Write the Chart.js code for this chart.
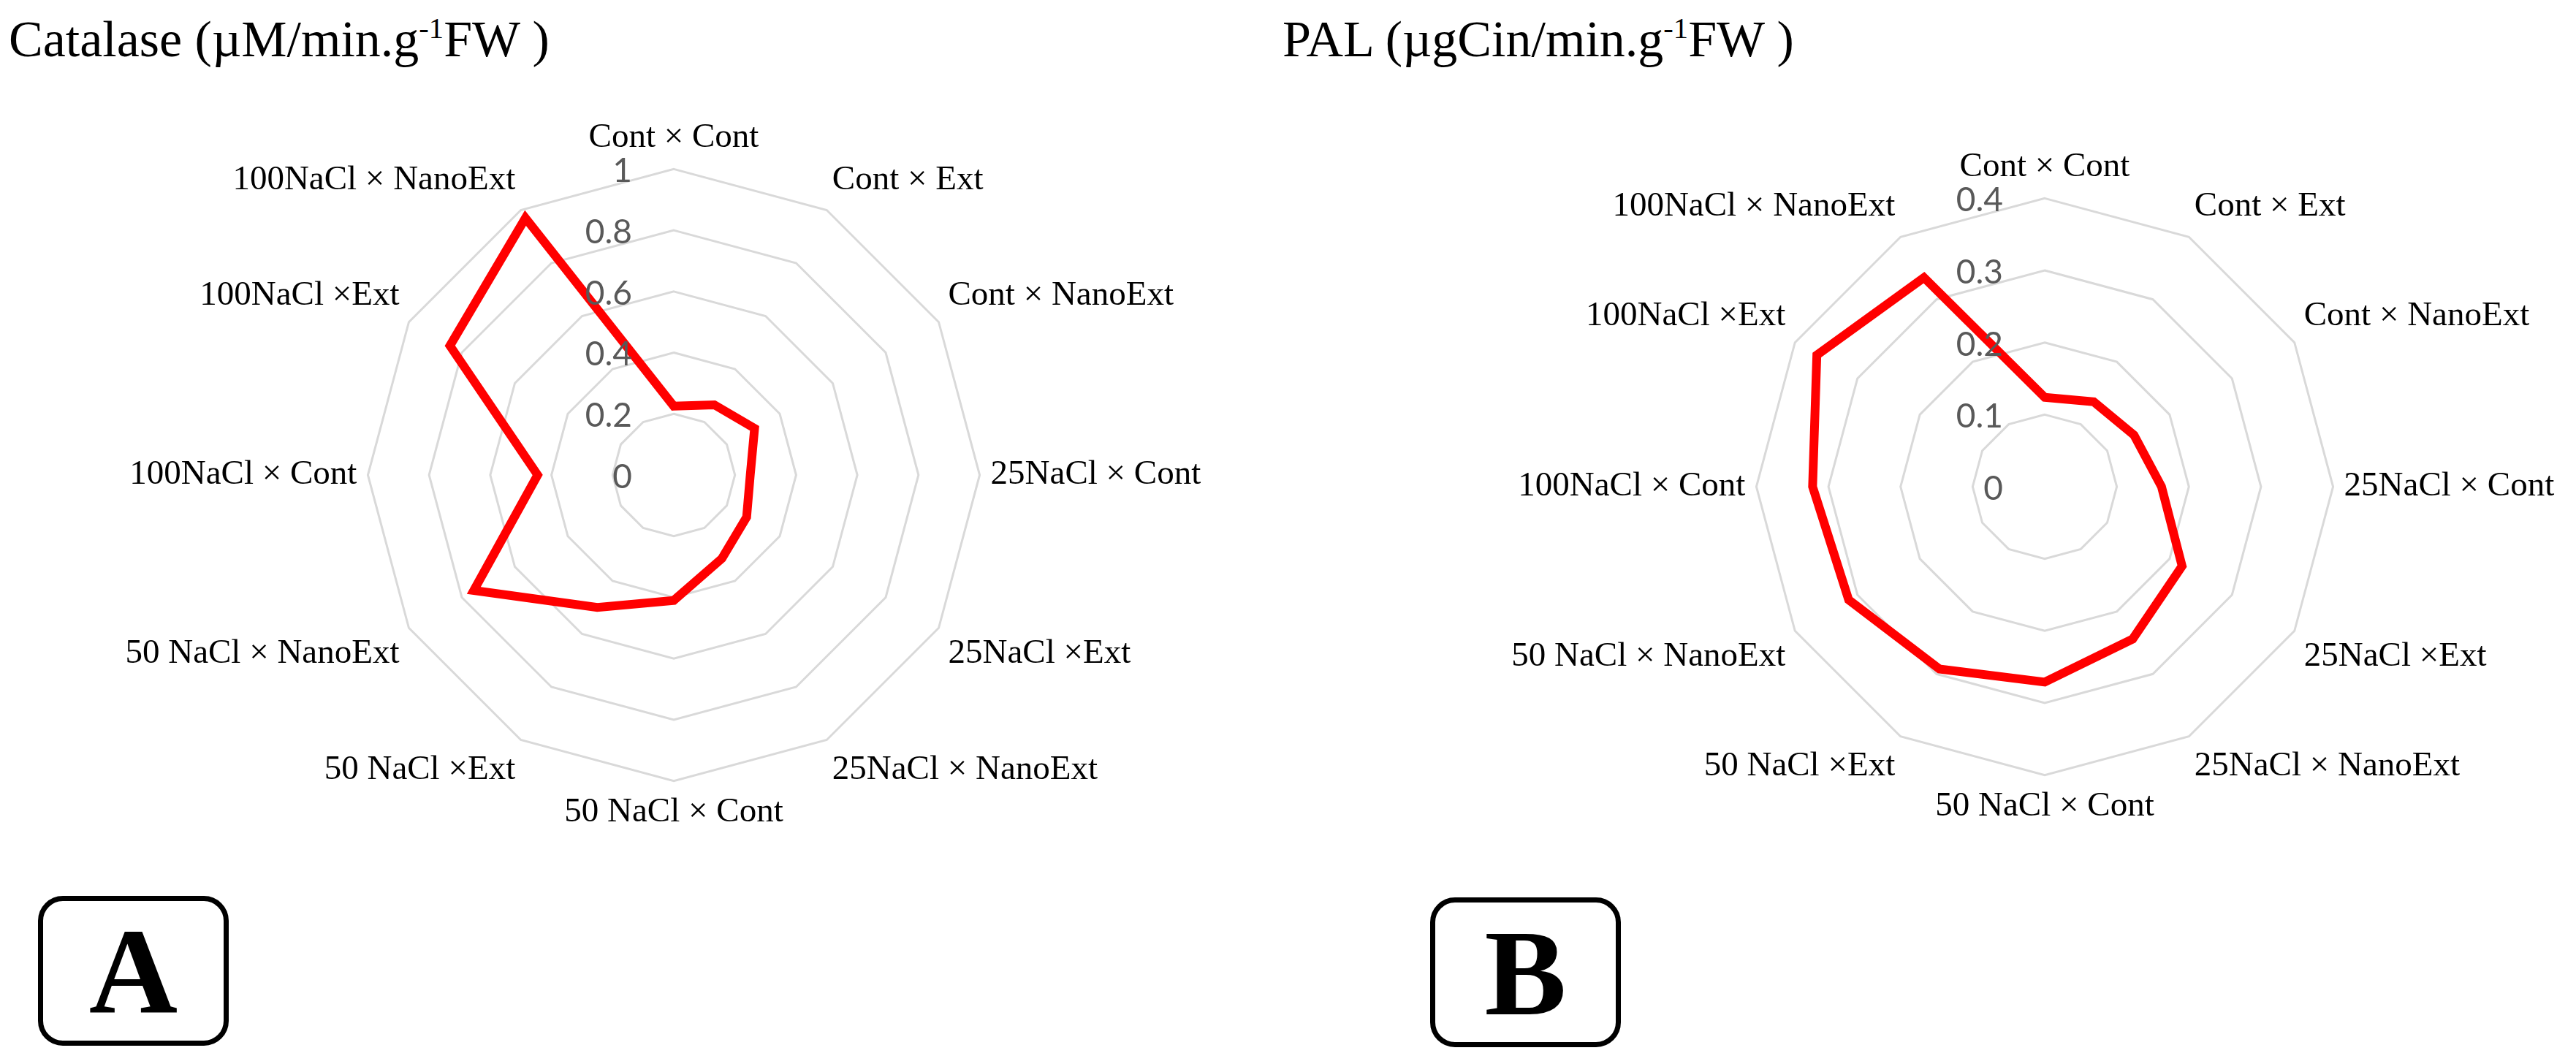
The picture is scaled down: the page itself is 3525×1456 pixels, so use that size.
<!DOCTYPE html>
<html>
<head>
<meta charset="utf-8">
<title>Catalase e PAL</title>
<script src="https://cdn.jsdelivr.net/npm/chart.js@4.4.1/dist/chart.umd.min.js"></script>
<style>
    html, body { margin: 0; padding: 0; background: #fff; }
    body {
        width: 3525px; height: 1456px; overflow: hidden; position: relative;
        font-family: 'Liberation Serif', 'Times New Roman', serif;
    }
    .titulo { position: absolute; font-size: 70px; line-height: 1; color: #000; white-space: nowrap; }
    .titulo sup { font-size: 0.58em; line-height: 0; vertical-align: 0.62em; }
    canvas { position: absolute; }
    .caixa {
        position: absolute; box-sizing: border-box;
        border: 7px solid #000; border-radius: 34px;
        display: flex; align-items: center; justify-content: center;
        font-weight: bold; font-size: 168px; line-height: 1; color: #000;
    }
</style>
</head>
<body>

<div class="titulo" style="left:12px; top:19px;">Catalase (µM/min.g<sup>-1</sup>FW )</div>
<div class="titulo" style="left:1755px; top:19px;">PAL (µgCin/min.g<sup>-1</sup>FW )</div>

<canvas id="radarCatalase" width="1700" height="980" style="left:72px; top:161px;"></canvas>
<canvas id="radarPAL" width="1700" height="932" style="left:1948px; top:200px;"></canvas>

<div class="caixa" style="left:52px; top:1226px; width:261px; height:205px;">A</div>
<div class="caixa" style="left:1957px; top:1228px; width:261px; height:205px;">B</div>

<script>
// tratamentos (sentido horário a partir do topo)
const tratamentos = [
    'Cont × Cont', 'Cont × Ext', 'Cont × NanoExt',
    '25NaCl × Cont', '25NaCl ×Ext', '25NaCl × NanoExt',
    '50 NaCl × Cont', '50 NaCl ×Ext', '50 NaCl × NanoExt',
    '100NaCl × Cont', '100NaCl ×Ext', '100NaCl × NanoExt'
];

// valores
const catalase = [0.225, 0.265, 0.305, 0.25, 0.275, 0.315, 0.41, 0.50, 0.755, 0.445, 0.845, 0.97];
const pal = [0.124, 0.136, 0.143, 0.162, 0.22, 0.244, 0.271, 0.292, 0.314, 0.322, 0.365, 0.335];

// marcas do eixo radial
const ticksCatalase = [0, 0.2, 0.4, 0.6, 0.8, 1];
const ticksPAL = [0, 0.1, 0.2, 0.3, 0.4];

// rótulos do eixo à esquerda do centro, como no Excel (inclui o 0)
const rotulosEixo = {
    id: 'rotulosEixo',
    afterDatasetsDraw(chart) {
        const scale = chart.scales.r;
        const ctx = chart.ctx;
        ctx.save();
        ctx.font = '46px Lato';
        ctx.fillStyle = '#595959';
        ctx.textAlign = 'right';
        ctx.textBaseline = 'middle';
        scale.ticks.forEach(tick => {
            const dist = scale.getDistanceFromCenterForValue(tick.value);
            ctx.fillText(tick.label, scale.xCenter - 57, scale.yCenter - dist + 3);
        });
        ctx.restore();
    }
};

function criarRadar(id, valores, ticks) {
    const ctx = document.getElementById(id);
    return new Chart(ctx, {
        type: 'radar',
        data: {
            labels: tratamentos,
            datasets: [{
                data: valores,
                borderColor: '#ff0000',
                borderWidth: 12,
                borderJoinStyle: 'miter',
                pointRadius: 0,
                pointHoverRadius: 0,
                fill: false,
                tension: 0
            }]
        },
        options: {
            responsive: false,
            devicePixelRatio: 1,
            animation: false,
            events: [],
            plugins: {
                legend: { display: false },
                tooltip: { enabled: false }
            },
            scales: {
                r: {
                    min: ticks[0],
                    max: ticks[ticks.length - 1],
                    angleLines: { display: false },
                    grid: { color: '#d9d9d9', lineWidth: 3 },
                    ticks: {
                        display: false,
                        stepSize: ticks[1] - ticks[0],
                        callback: v => String(+v.toFixed(2))
                    },
                    pointLabels: {
                        color: '#000',
                        padding: 15,
                        font: { family: 'Liberation Serif', size: 47 }
                    }
                }
            }
        },
        plugins: [rotulosEixo]
    });
}

criarRadar('radarCatalase', catalase, ticksCatalase);
criarRadar('radarPAL', pal, ticksPAL);
</script>
</body>
</html>
